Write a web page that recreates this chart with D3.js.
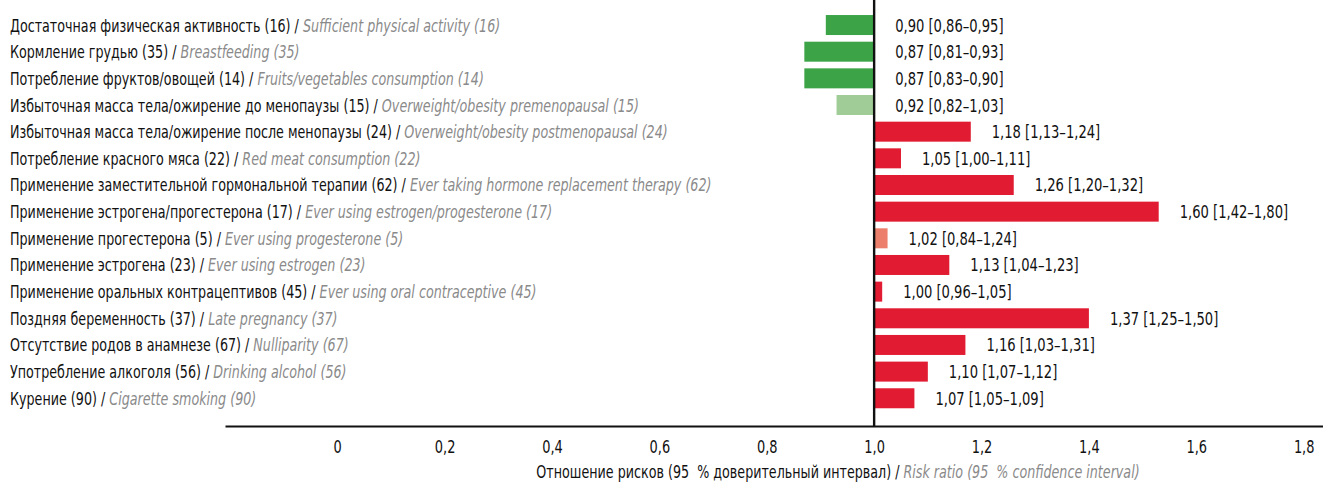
<!DOCTYPE html>
<html lang="ru">
<head>
    <meta charset="UTF-8">
    <title>Risk ratio chart</title>
    <script src="https://d3js.org/d3.v7.min.js"></script>
    <style>
        body { margin: 0; background: #fff; }
        svg text {
            font-family: "DejaVu Sans Condensed", "DejaVu Sans", sans-serif;
            font-stretch: condensed;
            font-size: 18px;
            fill: #111;
        }
        .en { fill: #8a8a8a; font-style: italic; }
        .axis .domain { stroke: #111; stroke-width: 2px; }
        .axis .tick line { display: none; }
    </style>
</head>
<body>
    <svg width="1323" height="483"></svg>

    <script>
        const ruLabels = [
            "Достаточная физическая активность",
            "Кормление грудью",
            "Потребление фруктов/овощей",
            "Избыточная масса тела/ожирение до менопаузы",
            "Избыточная масса тела/ожирение после менопаузы",
            "Потребление красного мяса",
            "Применение заместительной гормональной терапии",
            "Применение эстрогена/прогестерона",
            "Применение прогестерона",
            "Применение эстрогена",
            "Применение оральных контрацептивов",
            "Поздняя беременность",
            "Отсутствие родов в анамнезе",
            "Употребление алкоголя",
            "Курение"
        ];
        const enLabels = [
            "Sufficient physical activity",
            "Breastfeeding",
            "Fruits/vegetables consumption",
            "Overweight/obesity premenopausal",
            "Overweight/obesity postmenopausal",
            "Red meat consumption",
            "Ever taking hormone replacement therapy",
            "Ever using estrogen/progesterone",
            "Ever using progesterone",
            "Ever using estrogen",
            "Ever using oral contraceptive",
            "Late pregnancy",
            "Nulliparity",
            "Drinking alcohol",
            "Cigarette smoking"
        ];
        const studies = [16, 35, 14, 15, 24, 22, 62, 17, 5, 23, 45, 37, 67, 56, 90];
        const rr     = [0.90, 0.87, 0.87, 0.92, 1.18, 1.05, 1.26, 1.60, 1.02, 1.13, 1.00, 1.37, 1.16, 1.10, 1.07];
        const ciLow  = [0.86, 0.81, 0.83, 0.82, 1.13, 1.00, 1.20, 1.42, 0.84, 1.04, 0.96, 1.25, 1.03, 1.07, 1.05];
        const ciHigh = [0.95, 0.93, 0.90, 1.03, 1.24, 1.11, 1.32, 1.80, 1.24, 1.23, 1.05, 1.50, 1.31, 1.12, 1.09];
        // bar ends as drawn in the picture (not always equal to rr)
        const barValues = [0.91, 0.87, 0.87, 0.93, 1.18, 1.05, 1.26, 1.53, 1.025, 1.14, 1.015, 1.40, 1.17, 1.10, 1.075];
        const effect = ["protective", "protective", "protective", "protective-ns", "risk", "risk", "risk", "risk",
                        "risk-ns", "risk", "risk", "risk", "risk", "risk", "risk"];
        const tickValues = [0, 0.2, 0.4, 0.6, 0.8, 1.0, 1.2, 1.4, 1.6, 1.8];
        const axisTitleRu = "Отношение рисков (95\u00a0\u00a0% доверительный интервал)";
        const axisTitleEn = "Risk ratio (95\u00a0\u00a0% confidence interval)";

        const rows = ruLabels.map((ru, i) => ({
            ru, en: enLabels[i], n: studies[i], rr: rr[i], lo: ciLow[i], hi: ciHigh[i],
            bar: barValues[i], effect: effect[i], i
        }));

        const svg = d3.select("svg"),
            width = +svg.attr("width"),
            axisY = 426,
            squeeze = 0.785;   // makes the font look like the narrow original

        const locale = d3.formatLocale({decimal: ",", thousands: " ", grouping: [3], currency: ["", ""]});
        const f2 = locale.format(".2f"),
              f1 = locale.format(".1f");

        const x = d3.scaleLinear()
            .domain([-0.209, 1.836])
            .range([225, width]);

        const y = d3.scaleBand()
            .domain(rows.map(d => d.i))
            .range([11.7, 411.6])
            .paddingInner(0.25)
            .paddingOuter(0.125);

        const color = d3.scaleOrdinal()
            .domain(["protective", "protective-ns", "risk", "risk-ns"])
            .range(["#3ca447", "#a0cd97", "#e11b31", "#ec7f6c"]);

        const place = (px, py, s) => `translate(${px},${py}) scale(${s},1)`;

        // bars from the reference line at 1
        svg.append("g")
            .selectAll("rect")
            .data(rows)
            .join("rect")
            .attr("x", d => Math.min(x(1), x(d.bar)))
            .attr("y", d => y(d.i))
            .attr("width", d => Math.abs(x(d.bar) - x(1)))
            .attr("height", y.bandwidth())
            .attr("fill", d => color(d.effect));

        // row labels
        const lab = svg.append("g")
            .selectAll("text")
            .data(rows)
            .join("text")
            .attr("transform", d => place(10, y(d.i) + y.bandwidth() / 2 + 6.5, squeeze));
        lab.append("tspan").text(d => `${d.ru} (${d.n}) / `);
        lab.append("tspan").attr("class", "en").text(d => `${d.en} (${d.n})`);

        // value labels
        svg.append("g")
            .selectAll("text")
            .data(rows)
            .join("text")
            .attr("transform", d => place((d.bar < 1 ? x(1) : x(d.bar)) + 21, y(d.i) + y.bandwidth() / 2 + 6.5, 0.81))
            .text(d => `${f2(d.rr)} [${f2(d.lo)}–${f2(d.hi)}]`);

        // x axis
        const axis = svg.append("g")
            .attr("class", "axis")
            .attr("transform", `translate(0,${axisY})`)
            .call(d3.axisBottom(x)
                .tickValues(tickValues)
                .tickSize(0)
                .tickSizeOuter(0)
                .tickFormat(d => d === 0 ? "0" : f1(d)));
        axis.selectAll(".tick text")
            .attr("fill", "#111")
            .attr("y", 0)
            .attr("dy", 0)
            .attr("transform", "translate(0,27) scale(0.8,1)");

        // reference line at 1
        svg.append("line")
            .attr("x1", x(1)).attr("x2", x(1))
            .attr("y1", 0).attr("y2", axisY)
            .attr("stroke", "#111")
            .attr("stroke-width", 2.4);

        const title = svg.append("text")
            .attr("text-anchor", "middle")
            .attr("transform", place(838, 478, squeeze));
        title.append("tspan").text(axisTitleRu + " / ");
        title.append("tspan").attr("class", "en").text(axisTitleEn);
    </script>
</body>
</html>
